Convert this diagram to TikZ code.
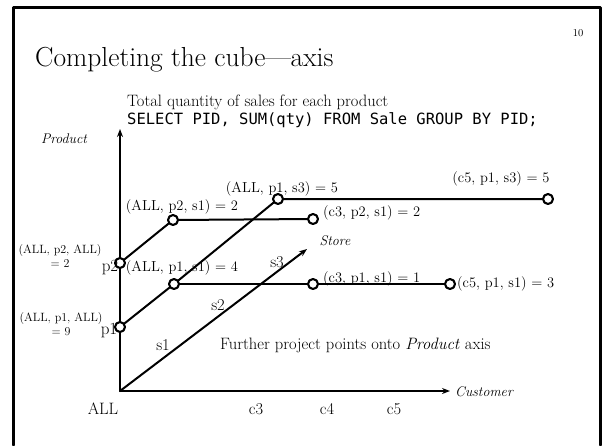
\documentclass[tikz,border=0pt]{standalone}
\usepackage{fontspec}
\newfontfamily\codefont{DejaVu Sans Mono}
\usetikzlibrary{arrows.meta}

\begin{document}
\begin{tikzpicture}[x=1pt,y=-1pt,line cap=round,line join=round,
  every node/.style={font=\fontsize{14.5}{16}\selectfont,inner sep=1pt},
  dot/.style={circle,draw,fill=white,line width=2.1pt,minimum size=10pt,inner sep=0pt},
  edge/.style={line width=2pt},
  axislbl/.style={font=\fontsize{14}{16}\selectfont\itshape},
  ticklbl/.style={font=\fontsize{16.5}{18}\selectfont},
  smalllbl/.style={font=\fontsize{12}{13.5}\selectfont,align=center}]
  \useasboundingbox (0,0) rectangle (602,445);
  % slide frame
  \draw[line width=3pt] (13.5,445) -- (13.5,7) -- (600.5,7) -- (600.5,445);
  \node[anchor=base west,inner sep=0pt,font=\fontsize{27.5}{30}\selectfont] (title) at (35,66) {Completing the cube---axis};
  \node[font=\fontsize{10.5}{12}\selectfont] (pagenum) at (578,33) {10};
  \node[anchor=west,inner sep=0pt,font=\fontsize{16.5}{18}\selectfont] (caption) at (127,102) {Total quantity of sales for each product};
  \node[anchor=west,inner sep=0pt,font=\fontsize{15.5}{18}\codefont] (query) at (127,120) {SELECT PID, SUM(qty) FROM Sale GROUP BY PID;};

  \coordinate (O) at (120,391);
  \coordinate (ptop) at (120,129);
  \coordinate (cend) at (450,391);
  \coordinate (send) at (307,249);
  \draw[edge,-{Stealth[length=8pt,width=6pt]}] (O) -- (ptop);
  \draw[edge,-{Stealth[length=8pt,width=6pt]}] (O) -- (cend);
  \draw[edge,-{Stealth[length=8pt,width=6pt]}] (O) -- (send);

  % cells
  \node[dot] (p2) at (120,263) {};
  \node[dot] (p1) at (120,327) {};
  \node[dot] (a21) at (173,220) {};
  \node[dot] (a11) at (174,284) {};
  \node[dot] (a13) at (278,199) {};
  \node[dot] (c321) at (313,219) {};
  \node[dot] (c311) at (313,284) {};
  \node[dot] (c511) at (450,284) {};
  \node[dot] (c513) at (548,199) {};
  \node[anchor=west] (lc311) at (322,279) {(c3, p1, s1) = 1};
  \draw[edge] (p2) -- (a21) -- (c321);
  \draw[edge] (p1) -- (a11) -- (a13) -- (c513);
  \draw[edge] (a11) -- (c311);
  \draw[edge,line width=2.8pt] (c311) -- (c511);

  % labels
  \node (la21) at (182,207) {(ALL, p2, s1) = 2};
  \node (la13) at (282,189) {(ALL, p1, s3) = 5};
  \node (lc513) at (501,179) {(c5, p1, s3) = 5};
  \node[anchor=west] (lc321) at (322,213) {(c3, p2, s1) = 2};
  \node[anchor=west] (lc511) at (456,284) {(c5, p1, s1) = 3};
  \node (la11) at (182,268) {(ALL, p1, s1) = 4};
  \node[smalllbl] (lp2all) at (60,256) {(ALL, p2, ALL)\\= 2};
  \node[smalllbl] (lp1all) at (61,324) {(ALL, p1, ALL)\\= 9};
  \node[ticklbl,font=\fontsize{17}{18}\selectfont] (lp2) at (110,268) {p2};
  \node[ticklbl,font=\fontsize{17}{18}\selectfont] (lp1) at (109,331) {p1};
  \node[ticklbl] (ls1) at (163,345) {s1};
  \node[ticklbl] (ls2) at (218,305) {s2};
  \node[ticklbl] (ls3) at (277,262) {s3};
  \node[ticklbl] (lall) at (103,409) {ALL};
  \node[ticklbl] (lc3) at (256,409) {c3};
  \node[ticklbl] (lc4) at (327,409) {c4};
  \node[ticklbl] (lc5) at (394,409) {c5};
  \node[axislbl] (lproduct) at (64,139) {Product};
  \node[axislbl,anchor=west] (lcustomer) at (454,392) {Customer};
  \node[axislbl] (lstore) at (335,241) {Store};
  \node[anchor=west,inner sep=0pt,font=\fontsize{16.5}{18}\selectfont] (further) at (220,345) {Further project points onto \textit{Product} axis};
\end{tikzpicture}
\end{document}
